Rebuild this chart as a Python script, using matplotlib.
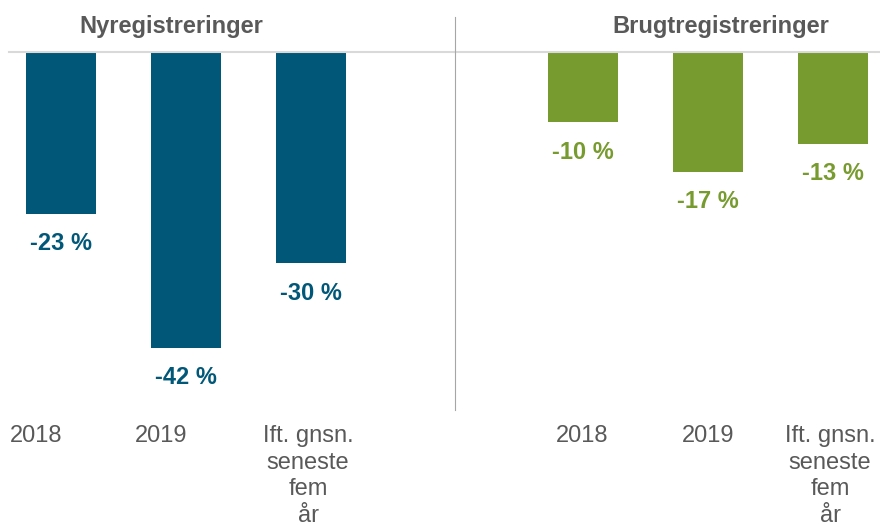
import matplotlib.pyplot as plt
from matplotlib.lines import Line2D
from matplotlib.transforms import ScaledTranslation

plt.rcParams['font.family'] = ['Liberation Sans', 'DejaVu Sans']

categories = ['2018', '2019', 'Ift. gnsn.\nseneste\nfem\når']
nyreg = [-23, -42, -30]
brugt = [-10, -17, -13]
titles = ['Nyregistreringer', 'Brugtregistreringer']
colors = ['#005778', '#789B2F']

# small horizontal nudges of the tick labels (pixels), as in the original
label_shift = [[-25, -25, -3], [-1, 0, -3]]

W, H = 880, 527
fig = plt.figure(figsize=(8.8, 5.27), dpi=100)

top = 52
bottom = 410
ax_l = fig.add_axes([9 / W, 1 - bottom / H, 446 / W, (bottom - top) / H])
ax_r = fig.add_axes([455 / W, 1 - bottom / H, 425 / W, (bottom - top) / H])

xlims = [(-0.416, 3.152), (-1.024, 2.376)]
title_x = [171.5, 721]

for ax, vals, col, xl, title, tx, shifts in zip([ax_l, ax_r], [nyreg, brugt], colors, xlims,
                                                 titles, title_x, label_shift):
    x = range(len(vals))
    ax.bar(x, vals, width=0.56, color=col, zorder=1)
    ax.set_xlim(*xl)
    ax.set_ylim(-50.8, 0)
    for xi, v in zip(x, vals):
        ax.annotate(f'{v} %', (xi, v), xytext=(0, -21.5), textcoords='offset points',
                    ha='center', va='center', fontsize=17, fontweight='bold', color=col)
    ax.set_xticks(list(x))
    ax.set_xticklabels(categories, fontsize=17, color='#595959', linespacing=1.26, va='top')
    ax.tick_params(axis='x', length=0, pad=11)
    for lab, dx in zip(ax.get_xticklabels(), shifts):
        lab.set_transform(lab.get_transform() + ScaledTranslation(dx / 100, 0, fig.dpi_scale_trans))
    ax.set_yticks([])
    for s in ['left', 'right', 'bottom']:
        ax.spines[s].set_visible(False)
    ax.spines['top'].set_color('#D9D9D9')
    ax.spines['top'].set_linewidth(1.5)
    ax.spines['top'].set_zorder(2)
    fig.text(tx / W, 1 - 26 / H, title, ha='center', va='center', fontsize=17,
             fontweight='bold', color='#595959')

fig.add_artist(Line2D([455 / W, 455 / W], [1 - 17 / H, 1 - 410 / H],
                      transform=fig.transFigure, color='#A6A6A6', lw=0.8))

fig.savefig('out.png', dpi=100)
